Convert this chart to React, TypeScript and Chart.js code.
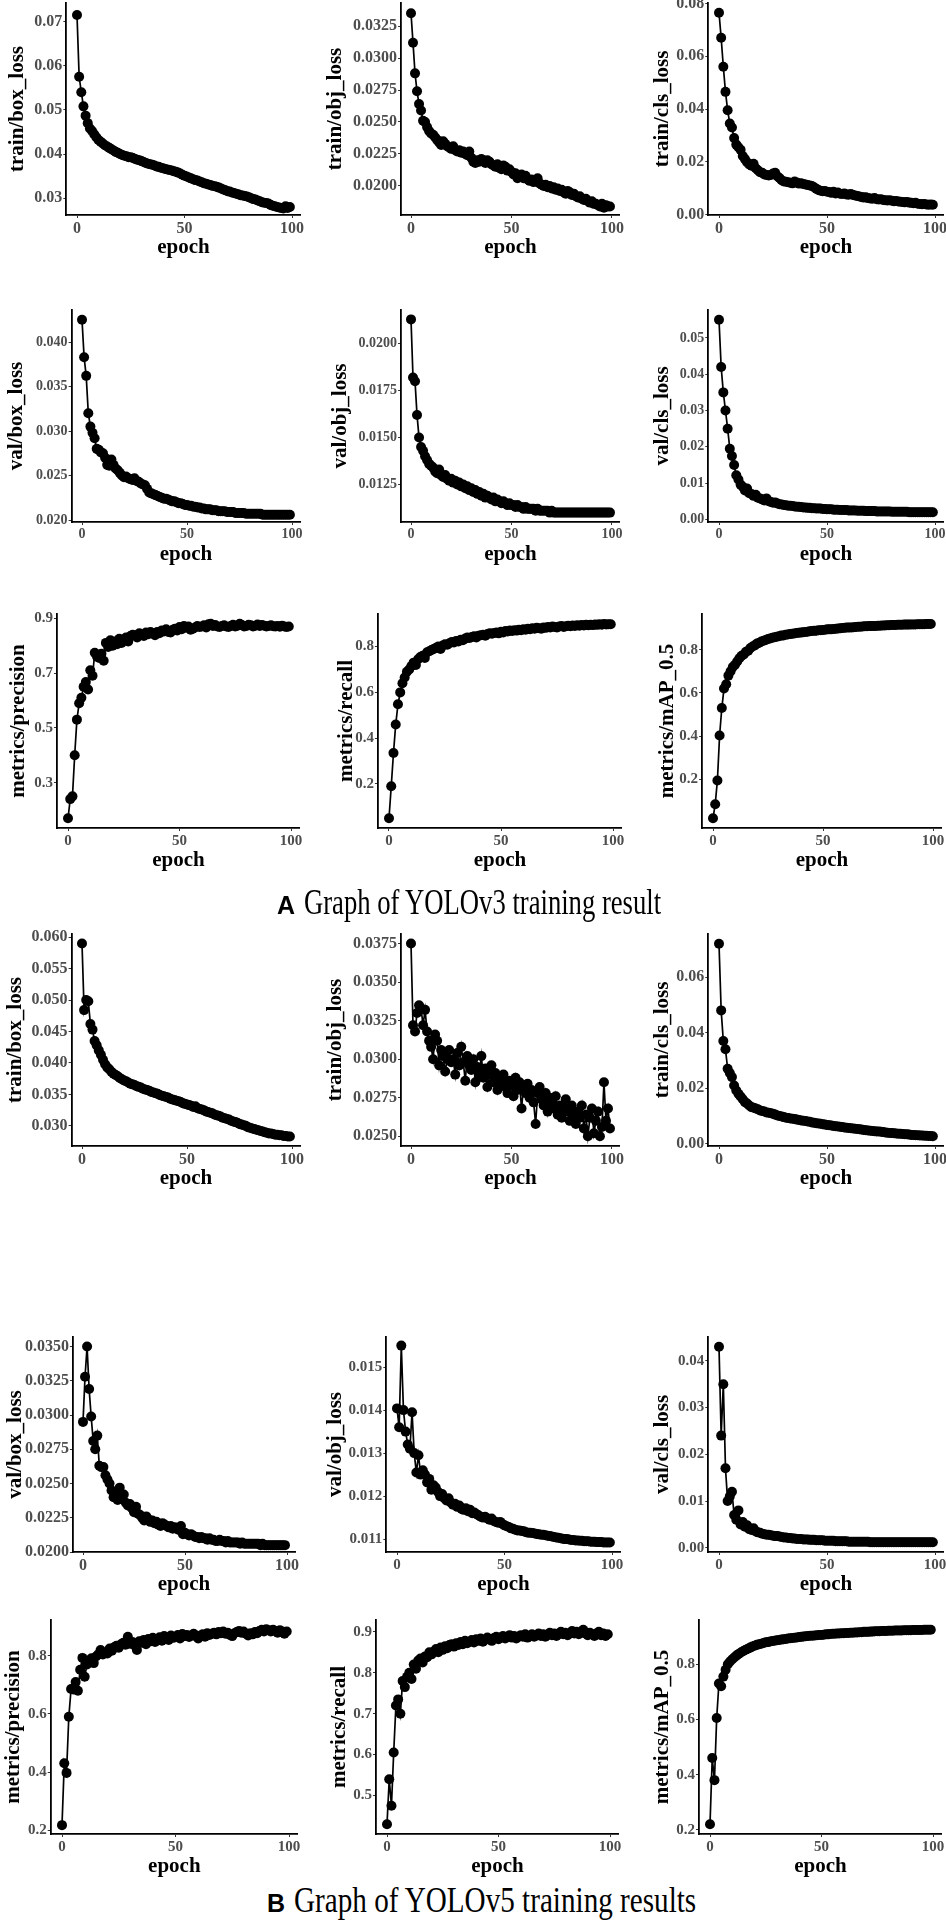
import React, { useEffect, useRef } from "react";
import { Chart, registerables } from "chart.js";
Chart.register(...registerables);

const EPOCHS: number[] = Array.from({ length: 100 }, (_, i) => i);
const X_TICKS = [0, 50, 100];

// ---------- YOLOv3 ----------
const v3TrainBox = [0.0715,0.0575,0.0540,0.0508,0.0487,0.0470,0.0458,0.0452,0.0445,0.0438,
0.0432,0.0428,0.0424,0.0420,0.0417,0.0414,0.0411,0.0408,0.0405,0.0403,
0.0400,0.0398,0.0396,0.0395,0.0393,0.0393,0.0391,0.0389,0.0387,0.0386,
0.0384,0.0382,0.0380,0.0378,0.0377,0.0376,0.0374,0.0372,0.0371,0.0369,
0.0368,0.0366,0.0365,0.0364,0.0363,0.0361,0.0360,0.0358,0.0356,0.0353,
0.0351,0.0349,0.0347,0.0345,0.0343,0.0341,0.0340,0.0338,0.0336,0.0334,
0.0333,0.0331,0.0330,0.0328,0.0327,0.0326,0.0324,0.0322,0.0320,0.0318,
0.0316,0.0315,0.0313,0.0312,0.0310,0.0309,0.0307,0.0306,0.0305,0.0304,
0.0302,0.0300,0.0298,0.0297,0.0295,0.0293,0.0291,0.0290,0.0289,0.0288,
0.0285,0.0283,0.0282,0.0280,0.0279,0.0278,0.0277,0.0282,0.0278,0.0280];

const v3TrainObj = [0.0335,0.0312,0.0288,0.0274,0.0264,0.0259,0.0251,0.0250,0.0246,0.0243,
0.0241,0.0240,0.0238,0.0236,0.0234,0.0232,0.0235,0.0233,0.0231,0.0230,
0.0229,0.0231,0.0228,0.0227,0.0228,0.0226,0.0227,0.0225,0.0224,0.0227,
0.0222,0.0219,0.0218,0.0220,0.0219,0.0221,0.0220,0.0218,0.0220,0.0219,
0.0217,0.0216,0.0215,0.0217,0.0214,0.0213,0.0216,0.0215,0.0212,0.0213,
0.0211,0.0209,0.0210,0.0206,0.0207,0.0209,0.0206,0.0208,0.0205,0.0204,
0.0205,0.0203,0.0204,0.0206,0.0202,0.0201,0.0200,0.0201,0.0199,0.0200,
0.0198,0.0199,0.0197,0.0198,0.0196,0.0197,0.0195,0.0194,0.0196,0.0195,
0.0193,0.0194,0.0192,0.0191,0.0192,0.0190,0.0189,0.0190,0.0188,0.0187,
0.0188,0.0186,0.0186,0.0185,0.0184,0.0186,0.0183,0.0185,0.0184,0.0184];

const v3TrainCls = [0.0765,0.0670,0.0560,0.0465,0.0395,0.0345,0.0330,0.0290,0.0265,0.0255,
0.0245,0.0222,0.0210,0.0198,0.0190,0.0185,0.0192,0.0175,0.0168,0.0160,
0.0158,0.0152,0.0150,0.0148,0.0150,0.0155,0.0158,0.0145,0.0138,0.0130,
0.0125,0.0124,0.0122,0.0120,0.0118,0.0125,0.0121,0.0117,0.0118,0.0116,
0.0114,0.0112,0.0110,0.0108,0.0103,0.0098,0.0093,0.0090,0.0088,0.0089,
0.0086,0.0085,0.0082,0.0086,0.0080,0.0083,0.0079,0.0078,0.0080,0.0076,
0.0075,0.0078,0.0074,0.0072,0.0070,0.0068,0.0066,0.0064,0.0065,0.0062,
0.0061,0.0060,0.0062,0.0058,0.0057,0.0058,0.0055,0.0054,0.0053,0.0054,
0.0052,0.0050,0.0051,0.0049,0.0048,0.0047,0.0046,0.0047,0.0045,0.0044,
0.0043,0.0044,0.0041,0.0040,0.0039,0.0040,0.0038,0.0037,0.0038,0.0037];

const v3ValBox = [0.0425,0.0383,0.0362,0.0320,0.0305,0.0298,0.0292,0.0280,0.0279,0.0276,
0.0275,0.0270,0.0262,0.0261,0.0268,0.0262,0.0258,0.0256,0.0253,0.0250,
0.0248,0.0249,0.0247,0.0246,0.0245,0.0247,0.0244,0.0243,0.0241,0.0240,
0.0239,0.0235,0.0231,0.0230,0.0229,0.0228,0.0227,0.0226,0.0225,0.0224,
0.0224,0.0223,0.0222,0.0221,0.0221,0.0220,0.0219,0.0219,0.0218,0.0217,
0.0217,0.0216,0.0216,0.0215,0.0215,0.0214,0.0214,0.0213,0.0213,0.0212,
0.0212,0.0212,0.0211,0.0211,0.0211,0.0210,0.0210,0.0210,0.0210,0.0209,
0.0209,0.0209,0.0209,0.0208,0.0208,0.0208,0.0208,0.0208,0.0207,0.0207,
0.0207,0.0207,0.0207,0.0207,0.0207,0.0207,0.0206,0.0206,0.0206,0.0206,
0.0206,0.0206,0.0206,0.0206,0.0206,0.0206,0.0206,0.0206,0.0206,0.0206];

const v3ValObj = [0.0213,0.0182,0.0180,0.0162,0.0150,0.0145,0.0143,0.0140,0.0138,0.0136,
0.0135,0.0134,0.0132,0.0131,0.0133,0.0130,0.0129,0.0130,0.0128,0.0127,
0.0128,0.0126,0.0127,0.0125,0.0126,0.0124,0.0125,0.0123,0.0124,0.0122,
0.0123,0.0121,0.0122,0.0120,0.0121,0.0119,0.0120,0.0118,0.0119,0.0118,
0.0117,0.0118,0.0116,0.0117,0.0116,0.0115,0.0116,0.0115,0.0114,0.0115,
0.0114,0.0114,0.0113,0.0114,0.0113,0.0113,0.0112,0.0113,0.0112,0.0112,
0.0112,0.0112,0.0111,0.0112,0.0111,0.0111,0.0111,0.0111,0.0111,0.0110,
0.0111,0.0110,0.0110,0.0110,0.0110,0.0110,0.0110,0.0110,0.0110,0.0110,
0.0110,0.0110,0.0110,0.0110,0.0110,0.0110,0.0110,0.0110,0.0110,0.0110,
0.0110,0.0110,0.0110,0.0110,0.0110,0.0110,0.0110,0.0110,0.0110,0.0110];

const v3ValCls = [0.0550,0.0420,0.0350,0.0300,0.0250,0.0195,0.0175,0.0150,0.0122,0.0110,
0.0096,0.0090,0.0080,0.0085,0.0072,0.0070,0.0065,0.0068,0.0060,0.0058,
0.0055,0.0052,0.0058,0.0050,0.0048,0.0046,0.0047,0.0044,0.0042,0.0041,
0.0040,0.0039,0.0038,0.0038,0.0037,0.0036,0.0035,0.0035,0.0034,0.0033,
0.0033,0.0032,0.0032,0.0031,0.0031,0.0030,0.0030,0.0030,0.0029,0.0029,
0.0028,0.0028,0.0028,0.0027,0.0027,0.0027,0.0026,0.0026,0.0026,0.0026,
0.0025,0.0025,0.0025,0.0025,0.0024,0.0024,0.0024,0.0024,0.0023,0.0023,
0.0023,0.0023,0.0023,0.0022,0.0022,0.0022,0.0022,0.0022,0.0022,0.0022,
0.0021,0.0021,0.0021,0.0021,0.0021,0.0021,0.0021,0.0021,0.0020,0.0020,
0.0020,0.0020,0.0020,0.0020,0.0020,0.0020,0.0020,0.0020,0.0020,0.0020];

const v3Precision = [0.170,0.240,0.250,0.400,0.530,0.590,0.610,0.650,0.667,0.640,
0.710,0.690,0.774,0.760,0.755,0.770,0.745,0.810,0.795,0.820,
0.800,0.815,0.805,0.825,0.810,0.820,0.830,0.815,0.835,0.840,
0.838,0.830,0.845,0.840,0.835,0.848,0.842,0.850,0.845,0.838,
0.850,0.845,0.855,0.852,0.860,0.850,0.848,0.858,0.862,0.855,
0.868,0.860,0.872,0.865,0.870,0.858,0.862,0.866,0.872,0.868,
0.870,0.874,0.866,0.878,0.880,0.872,0.875,0.870,0.868,0.872,
0.874,0.870,0.868,0.872,0.876,0.870,0.873,0.880,0.875,0.870,
0.872,0.876,0.874,0.870,0.873,0.877,0.872,0.875,0.873,0.870,
0.872,0.874,0.871,0.870,0.872,0.869,0.873,0.870,0.868,0.870];

const v3Recall = [0.050,0.190,0.335,0.460,0.548,0.600,0.640,0.665,0.690,0.700,
0.715,0.730,0.720,0.745,0.755,0.760,0.750,0.775,0.780,0.785,
0.790,0.795,0.800,0.790,0.805,0.810,0.808,0.815,0.820,0.818,
0.825,0.822,0.830,0.828,0.835,0.840,0.838,0.842,0.845,0.840,
0.848,0.850,0.852,0.848,0.855,0.858,0.856,0.860,0.862,0.858,
0.865,0.862,0.868,0.866,0.870,0.868,0.872,0.870,0.874,0.872,
0.876,0.874,0.878,0.876,0.880,0.878,0.882,0.880,0.878,0.884,
0.882,0.886,0.884,0.888,0.886,0.884,0.888,0.890,0.886,0.889,
0.891,0.889,0.892,0.890,0.893,0.891,0.894,0.892,0.895,0.893,
0.896,0.894,0.897,0.895,0.898,0.896,0.899,0.897,0.898,0.898];

const v3MAP = [0.020,0.085,0.195,0.403,0.530,0.620,0.640,0.680,0.700,0.720,
0.730,0.745,0.760,0.772,0.778,0.790,0.795,0.808,0.815,0.820,
0.828,0.832,0.838,0.841,0.845,0.849,0.852,0.855,0.858,0.860,
0.862,0.865,0.866,0.869,0.870,0.872,0.874,0.875,0.877,0.878,
0.879,0.881,0.882,0.883,0.885,0.886,0.887,0.888,0.890,0.890,
0.891,0.892,0.894,0.894,0.895,0.896,0.897,0.898,0.899,0.900,
0.901,0.902,0.903,0.903,0.904,0.905,0.906,0.906,0.907,0.908,
0.908,0.909,0.909,0.910,0.910,0.911,0.911,0.912,0.912,0.913,
0.913,0.914,0.914,0.914,0.915,0.915,0.915,0.916,0.916,0.916,
0.917,0.917,0.917,0.918,0.918,0.918,0.918,0.919,0.919,0.919];

// ---------- YOLOv5 ----------
const v5TrainBox = [0.0590,0.0484,0.0500,0.0498,0.0462,0.0453,0.0435,0.0428,0.0420,0.0413,
0.0405,0.0398,0.0393,0.0390,0.0386,0.0383,0.0381,0.0379,0.0376,0.0374,
0.0372,0.0371,0.0369,0.0367,0.0366,0.0365,0.0363,0.0362,0.0361,0.0359,
0.0358,0.0357,0.0356,0.0354,0.0353,0.0352,0.0351,0.0349,0.0348,0.0347,
0.0346,0.0345,0.0343,0.0342,0.0341,0.0340,0.0339,0.0338,0.0336,0.0335,
0.0334,0.0333,0.0332,0.0330,0.0331,0.0328,0.0327,0.0326,0.0325,0.0323,
0.0322,0.0321,0.0320,0.0318,0.0317,0.0316,0.0315,0.0313,0.0312,0.0311,
0.0310,0.0308,0.0307,0.0306,0.0305,0.0303,0.0302,0.0301,0.0300,0.0298,
0.0297,0.0296,0.0295,0.0294,0.0293,0.0292,0.0291,0.0290,0.0289,0.0288,
0.0288,0.0287,0.0286,0.0286,0.0285,0.0285,0.0284,0.0284,0.0283,0.0283];

const v5TrainObj = [0.0375,0.0322,0.0318,0.0330,0.0335,0.0333,0.0322,0.0332,0.0318,0.0312,
0.0308,0.0300,0.0316,0.0312,0.0296,0.0306,0.0302,0.0292,0.0300,0.0306,
0.0298,0.0300,0.0290,0.0304,0.0296,0.0308,0.0298,0.0286,0.0302,0.0296,
0.0293,0.0300,0.0285,0.0295,0.0290,0.0302,0.0288,0.0294,0.0282,0.0290,
0.0296,0.0285,0.0291,0.0280,0.0288,0.0284,0.0290,0.0282,0.0278,0.0286,
0.0283,0.0276,0.0288,0.0280,0.0285,0.0268,0.0282,0.0278,0.0284,0.0275,
0.0280,0.0272,0.0258,0.0278,0.0282,0.0274,0.0270,0.0278,0.0266,0.0275,
0.0272,0.0268,0.0276,0.0264,0.0270,0.0262,0.0268,0.0274,0.0266,0.0260,
0.0270,0.0265,0.0258,0.0266,0.0262,0.0270,0.0255,0.0264,0.0250,0.0262,
0.0268,0.0252,0.0260,0.0266,0.0250,0.0256,0.0285,0.0260,0.0268,0.0255];

const v5TrainCls = [0.0720,0.0480,0.0370,0.0340,0.0270,0.0255,0.0240,0.0210,0.0192,0.0180,
0.0170,0.0160,0.0150,0.0145,0.0138,0.0132,0.0130,0.0127,0.0124,0.0120,
0.0118,0.0116,0.0113,0.0112,0.0110,0.0108,0.0105,0.0102,0.0100,0.0098,
0.0096,0.0094,0.0093,0.0091,0.0090,0.0089,0.0087,0.0086,0.0084,0.0083,
0.0082,0.0080,0.0079,0.0077,0.0076,0.0074,0.0073,0.0072,0.0070,0.0069,
0.0068,0.0067,0.0066,0.0064,0.0063,0.0062,0.0061,0.0060,0.0059,0.0058,
0.0057,0.0056,0.0055,0.0054,0.0053,0.0052,0.0051,0.0050,0.0049,0.0048,
0.0047,0.0046,0.0045,0.0044,0.0044,0.0043,0.0042,0.0041,0.0040,0.0039,
0.0039,0.0038,0.0037,0.0036,0.0036,0.0035,0.0034,0.0034,0.0033,0.0032,
0.0032,0.0031,0.0031,0.0030,0.0030,0.0029,0.0029,0.0028,0.0028,0.0027];

const v5ValBox = [0.0295,0.0328,0.0350,0.0319,0.0299,0.0281,0.0275,0.0285,0.0263,0.0262,
0.0262,0.0256,0.0253,0.0250,0.0245,0.0240,0.0243,0.0238,0.0247,0.0240,
0.0242,0.0236,0.0234,0.0235,0.0232,0.0229,0.0233,0.0228,0.0227,0.0225,
0.0223,0.0226,0.0224,0.0222,0.0223,0.0221,0.0222,0.0220,0.0219,0.0221,
0.0220,0.0219,0.0218,0.0219,0.0217,0.0218,0.0217,0.0216,0.0219,0.0213,
0.0214,0.0213,0.0212,0.0213,0.0212,0.0211,0.0211,0.0210,0.0211,0.0210,
0.0210,0.0209,0.0210,0.0209,0.0209,0.0208,0.0208,0.0209,0.0208,0.0208,
0.0207,0.0208,0.0207,0.0207,0.0207,0.0207,0.0207,0.0206,0.0207,0.0206,
0.0206,0.0206,0.0206,0.0206,0.0206,0.0206,0.0206,0.0205,0.0206,0.0205,
0.0205,0.0205,0.0205,0.0205,0.0205,0.0205,0.0205,0.0205,0.0205,0.0205];

const v5ValObj = [0.01404,0.01360,0.01550,0.01400,0.01350,0.01320,0.01310,0.01395,0.01300,0.01255,
0.01295,0.01250,0.01260,0.01250,0.01232,0.01240,0.01215,0.01225,0.01220,0.01210,
0.01200,0.01205,0.01195,0.01190,0.01195,0.01185,0.01180,0.01182,0.01175,0.01178,
0.01170,0.01168,0.01172,0.01165,0.01168,0.01160,0.01162,0.01158,0.01155,0.01152,
0.01150,0.01152,0.01148,0.01145,0.01148,0.01142,0.01140,0.01138,0.01140,0.01135,
0.01132,0.01130,0.01128,0.01125,0.01124,0.01122,0.01120,0.01120,0.01119,0.01118,
0.01116,0.01115,0.01115,0.01114,0.01113,0.01112,0.01111,0.01110,0.01110,0.01109,
0.01108,0.01107,0.01106,0.01105,0.01104,0.01103,0.01102,0.01101,0.01100,0.01100,
0.01099,0.01098,0.01098,0.01097,0.01097,0.01096,0.01096,0.01095,0.01095,0.01095,
0.01094,0.01094,0.01094,0.01093,0.01093,0.01093,0.01092,0.01092,0.01092,0.01092];

const v5ValCls = [0.0430,0.0240,0.0350,0.0170,0.0100,0.0110,0.0120,0.0070,0.0060,0.0080,
0.0050,0.0055,0.0045,0.0048,0.0040,0.0038,0.0042,0.0035,0.0033,0.0032,
0.0030,0.0029,0.0028,0.0028,0.0027,0.0026,0.0025,0.0025,0.0024,0.0023,
0.0022,0.0022,0.0021,0.0021,0.0020,0.0020,0.0019,0.0019,0.0019,0.0018,
0.0018,0.0018,0.0017,0.0017,0.0017,0.0016,0.0016,0.0016,0.0016,0.0015,
0.0015,0.0015,0.0015,0.0015,0.0014,0.0014,0.0014,0.0014,0.0014,0.0014,
0.0013,0.0013,0.0013,0.0013,0.0013,0.0013,0.0013,0.0013,0.0013,0.0013,
0.0012,0.0012,0.0012,0.0012,0.0012,0.0012,0.0012,0.0012,0.0012,0.0012,
0.0012,0.0012,0.0012,0.0012,0.0012,0.0012,0.0012,0.0012,0.0012,0.0012,
0.0012,0.0012,0.0012,0.0012,0.0012,0.0012,0.0012,0.0012,0.0012,0.0012];

const v5Precision = [0.217,0.430,0.397,0.590,0.686,0.684,0.710,0.680,0.752,0.793,
0.728,0.770,0.785,0.792,0.775,0.798,0.805,0.820,0.805,0.812,
0.808,0.825,0.818,0.830,0.835,0.828,0.840,0.845,0.838,0.866,
0.842,0.848,0.836,0.820,0.850,0.845,0.855,0.840,0.858,0.850,
0.862,0.848,0.858,0.864,0.852,0.868,0.860,0.855,0.870,0.862,
0.865,0.872,0.860,0.875,0.868,0.872,0.865,0.870,0.876,0.868,
0.860,0.870,0.874,0.866,0.878,0.872,0.876,0.880,0.874,0.882,
0.878,0.884,0.876,0.880,0.872,0.868,0.878,0.882,0.886,0.880,
0.884,0.876,0.870,0.878,0.874,0.882,0.878,0.886,0.890,0.884,
0.892,0.888,0.884,0.890,0.886,0.880,0.888,0.884,0.876,0.884];

const v5Recall = [0.430,0.540,0.475,0.605,0.720,0.735,0.700,0.780,0.765,0.790,
0.800,0.785,0.820,0.810,0.830,0.835,0.825,0.840,0.838,0.850,
0.845,0.852,0.858,0.850,0.862,0.856,0.865,0.860,0.868,0.870,
0.864,0.872,0.868,0.875,0.870,0.878,0.872,0.876,0.880,0.874,
0.882,0.878,0.884,0.876,0.880,0.886,0.882,0.878,0.885,0.888,
0.882,0.886,0.890,0.884,0.888,0.892,0.886,0.890,0.884,0.888,
0.892,0.888,0.894,0.886,0.890,0.894,0.888,0.892,0.896,0.890,
0.894,0.888,0.892,0.898,0.892,0.896,0.890,0.894,0.900,0.894,
0.898,0.892,0.896,0.902,0.896,0.900,0.894,0.898,0.905,0.896,
0.892,0.898,0.894,0.890,0.896,0.900,0.892,0.896,0.890,0.894];

const v5MAP = [0.220,0.460,0.380,0.605,0.730,0.720,0.755,0.780,0.800,0.810,
0.818,0.825,0.832,0.838,0.843,0.848,0.852,0.856,0.860,0.864,
0.867,0.870,0.872,0.874,0.877,0.879,0.880,0.882,0.884,0.885,
0.887,0.888,0.889,0.890,0.891,0.893,0.894,0.895,0.896,0.897,
0.898,0.899,0.900,0.901,0.902,0.903,0.903,0.904,0.905,0.906,
0.906,0.907,0.908,0.908,0.909,0.910,0.910,0.911,0.911,0.912,
0.912,0.913,0.913,0.914,0.914,0.915,0.915,0.916,0.916,0.917,
0.917,0.917,0.918,0.918,0.919,0.919,0.919,0.920,0.920,0.920,
0.921,0.921,0.921,0.922,0.922,0.922,0.922,0.923,0.923,0.923,
0.923,0.924,0.924,0.924,0.924,0.924,0.925,0.925,0.925,0.925];

// ---------- y tick labels ----------
const tA1P1 = [0.03, 0.04, 0.05, 0.06, 0.07];
const tA1P2 = [0.02, 0.0225, 0.025, 0.0275, 0.03, 0.0325];
const tA1P3 = [0, 0.02, 0.04, 0.06, 0.08];
const tA2P1 = [0.02, 0.025, 0.03, 0.035, 0.04];
const tA2P2 = [0.0125, 0.015, 0.0175, 0.02];
const tA2P3 = [0, 0.01, 0.02, 0.03, 0.04, 0.05];
const tA3P1 = [0.3, 0.5, 0.7, 0.9];
const tA3P2 = [0.2, 0.4, 0.6, 0.8];
const tA3P3 = [0.2, 0.4, 0.6, 0.8];
const tB1P1 = [0.03, 0.035, 0.04, 0.045, 0.05, 0.055, 0.06];
const tB1P2 = [0.025, 0.0275, 0.03, 0.0325, 0.035, 0.0375];
const tB1P3 = [0, 0.02, 0.04, 0.06];
const tB2P1 = [0.02, 0.0225, 0.025, 0.0275, 0.03, 0.0325, 0.035];
const tB2P2 = [0.011, 0.012, 0.013, 0.014, 0.015];
const tB2P3 = [0, 0.01, 0.02, 0.03, 0.04];
const tB3P1 = [0.2, 0.4, 0.6, 0.8];
const tB3P2 = [0.5, 0.6, 0.7, 0.8, 0.9];
const tB3P3 = [0.2, 0.4, 0.6, 0.8];

const SERIF = "'Liberation Serif', 'Times New Roman', serif";
const TITLE_SIZE = 21;

type Spec = {
  label: string; values: number[]; yMin: number; yMax: number; yTicks: number[]; dec: number;
  x0: number; x100: number; top: number; bottom: number; titleX: number; tick: number;
};

const ROW = {
  A1: { top: 3, bottom: 215 },
  A2: { top: 310, bottom: 522 },
  A3: { top: 614, bottom: 828 },
  B1: { top: 934, bottom: 1146 },
  B2: { top: 1337, bottom: 1552 },
  B3: { top: 1620, bottom: 1834 },
};

const PANELS: Spec[] = [
  { label: "train/box_loss", values: v3TrainBox, yMin: 0.0262, yMax: 0.0742, yTicks: tA1P1, dec: 2, x0: 77, x100: 292, ...ROW.A1, titleX: 17, tick: 16 },
  { label: "train/obj_loss", values: v3TrainObj, yMin: 0.01773, yMax: 0.0343, yTicks: tA1P2, dec: 4, x0: 411, x100: 612, ...ROW.A1, titleX: 335, tick: 16 },
  { label: "train/cls_loss", values: v3TrainCls, yMin: -0.0002, yMax: 0.0802, yTicks: tA1P3, dec: 2, x0: 719, x100: 935, ...ROW.A1, titleX: 662, tick: 16 },
  { label: "val/box_loss", values: v3ValBox, yMin: 0.01978, yMax: 0.0436, yTicks: tA2P1, dec: 3, x0: 82, x100: 292, ...ROW.A2, titleX: 16, tick: 14 },
  { label: "val/obj_loss", values: v3ValObj, yMin: 0.0105, yMax: 0.0218, yTicks: tA2P2, dec: 4, x0: 411, x100: 612, ...ROW.A2, titleX: 340, tick: 14 },
  { label: "val/cls_loss", values: v3ValCls, yMin: -0.0007, yMax: 0.0577, yTicks: tA2P3, dec: 2, x0: 719, x100: 935, ...ROW.A2, titleX: 662, tick: 14 },
  { label: "metrics/precision", values: v3Precision, yMin: 0.1345, yMax: 0.9155, yTicks: tA3P1, dec: 1, x0: 68, x100: 291, ...ROW.A3, titleX: 18, tick: 15 },
  { label: "metrics/recall", values: v3Recall, yMin: 0.0075, yMax: 0.9425, yTicks: tA3P2, dec: 1, x0: 389, x100: 613, ...ROW.A3, titleX: 346, tick: 15 },
  { label: "metrics/mAP_0.5", values: v3MAP, yMin: -0.025, yMax: 0.965, yTicks: tA3P3, dec: 1, x0: 713, x100: 933, ...ROW.A3, titleX: 667, tick: 15 },
  { label: "train/box_loss", values: v5TrainBox, yMin: 0.0268, yMax: 0.0605, yTicks: tB1P1, dec: 3, x0: 82, x100: 292, ...ROW.B1, titleX: 15, tick: 16 },
  { label: "train/obj_loss", values: v5TrainObj, yMin: 0.02437, yMax: 0.03812, yTicks: tB1P2, dec: 4, x0: 411, x100: 612, ...ROW.B1, titleX: 335, tick: 16 },
  { label: "train/cls_loss", values: v5TrainCls, yMin: -0.0008, yMax: 0.0755, yTicks: tB1P3, dec: 2, x0: 719, x100: 935, ...ROW.B1, titleX: 662, tick: 16 },
  { label: "val/box_loss", values: v5ValBox, yMin: 0.02, yMax: 0.0357, yTicks: tB2P1, dec: 4, x0: 83, x100: 287, ...ROW.B2, titleX: 15, tick: 16 },
  { label: "val/obj_loss", values: v5ValObj, yMin: 0.0107, yMax: 0.0157, yTicks: tB2P2, dec: 3, x0: 397, x100: 612, ...ROW.B2, titleX: 335, tick: 15 },
  { label: "val/cls_loss", values: v5ValCls, yMin: -0.0009, yMax: 0.0451, yTicks: tB2P3, dec: 2, x0: 719, x100: 935, ...ROW.B2, titleX: 662, tick: 15 },
  { label: "metrics/precision", values: v5Precision, yMin: 0.1865, yMax: 0.9235, yTicks: tB3P1, dec: 1, x0: 62, x100: 289, ...ROW.B3, titleX: 13, tick: 15 },
  { label: "metrics/recall", values: v5Recall, yMin: 0.406, yMax: 0.929, yTicks: tB3P2, dec: 1, x0: 387, x100: 610, ...ROW.B3, titleX: 339, tick: 15 },
  { label: "metrics/mAP_0.5", values: v5MAP, yMin: 0.185, yMax: 0.96, yTicks: tB3P3, dec: 1, x0: 710, x100: 933, ...ROW.B3, titleX: 662, tick: 15 },
];

function Panel({ p }: { p: Spec }) {
  const ref = useRef<HTMLCanvasElement | null>(null);
  const k = (p.x100 - p.x0) / 100;
  const plotLeft = p.x0 - 4.95 * k;
  const plotRight = p.x0 + 103.95 * k;
  const padTop = 14;
  const cLeft = Math.round(p.titleX - TITLE_SIZE / 2);
  const cTop = p.top - padTop;
  const cWidth = Math.round(plotRight + 10 - cLeft);
  const cHeight = Math.round(p.bottom + 32 + TITLE_SIZE / 2 - cTop);

  useEffect(() => {
    if (!ref.current) return;
    const tickFont = { family: SERIF, size: p.tick, weight: "bold" as const, lineHeight: 1.2 };
    const titleFont = { family: SERIF, size: TITLE_SIZE, weight: "bold" as const, lineHeight: 1 };
    const chart = new Chart(ref.current, {
      type: "line",
      data: {
        datasets: [
          {
            data: EPOCHS.map((e, i) => ({ x: e, y: p.values[i] })),
            borderColor: "#000",
            backgroundColor: "#000",
            pointBackgroundColor: "#000",
            pointBorderWidth: 0,
            pointRadius: 5,
            pointHoverRadius: 5,
            borderWidth: 1.7,
            tension: 0,
            clip: false as any,
          },
        ],
      },
      options: {
        responsive: false,
        animation: false,
        events: [],
        layout: { padding: { top: padTop, left: 0, bottom: 0, right: cLeft + cWidth - plotRight } },
        plugins: { legend: { display: false }, tooltip: { enabled: false } },
        scales: {
          x: {
            type: "linear",
            min: -4.95,
            max: 103.95,
            afterBuildTicks: (s: any) => { s.ticks = X_TICKS.map((v) => ({ value: v })); },
            afterFit: (s: any) => { s.height = cTop + cHeight - p.bottom; },
            grid: { display: true, drawOnChartArea: false, drawTicks: true, tickLength: 3, color: "#333", lineWidth: 1 },
            border: { display: true, color: "#000", width: 1.8 },
            ticks: { font: tickFont, color: "#4d4d4d", padding: 1, maxRotation: 0, autoSkip: false, callback: (v: any) => String(v) },
            title: { display: true, text: "epoch", color: "#000", font: titleFont, padding: 0 },
          },
          y: {
            type: "linear",
            min: p.yMin,
            max: p.yMax,
            afterBuildTicks: (s: any) => { s.ticks = p.yTicks.map((v) => ({ value: v })); },
            afterFit: (s: any) => { s.width = plotLeft - cLeft; },
            grid: { display: true, drawOnChartArea: false, drawTicks: true, tickLength: 3, color: "#333", lineWidth: 1 },
            border: { display: true, color: "#000", width: 1.8 },
            ticks: { font: tickFont, color: "#4d4d4d", padding: 1, autoSkip: false, callback: (v: any) => Number(v).toFixed(p.dec) },
            title: { display: true, text: p.label, color: "#000", font: titleFont, padding: 0 },
          },
        },
      },
    } as any);
    return () => chart.destroy();
  }, []);

  return (
    <canvas
      ref={ref}
      width={cWidth}
      height={cHeight}
      style={{ position: "absolute", left: cLeft, top: cTop, width: cWidth, height: cHeight }}
    />
  );
}

function Caption({ letter, text, left, top, sx }: { letter: string; text: string; left: number; top: number; sx: number }) {
  return (
    <div style={{ position: "absolute", left, top, whiteSpace: "nowrap", lineHeight: "40px", height: 40 }}>
      <span style={{ fontFamily: "'Liberation Sans', Arial, sans-serif", fontWeight: 700, fontSize: 25, color: "#000" }}>{letter}</span>
      <span
        style={{
          display: "inline-block",
          marginLeft: 9,
          fontFamily: SERIF,
          fontSize: 36,
          color: "#000",
          transform: `scaleX(${sx})`,
          transformOrigin: "left center",
        }}
      >
        {text}
      </span>
    </div>
  );
}

export default function App() {
  useEffect(() => {
    document.body.style.margin = "0";
    document.body.style.background = "#fff";
  }, []);
  return (
    <div style={{ position: "relative", width: 946, height: 1925, background: "#fff", overflow: "hidden" }}>
      {PANELS.map((p, i) => (
        <Panel key={i} p={p} />
      ))}
      <Caption letter="A" text="Graph of YOLOv3 training result" left={277} top={882} sx={0.74} />
      <Caption letter="B" text="Graph of YOLOv5 training results" left={267} top={1880} sx={0.81} />
    </div>
  );
}
